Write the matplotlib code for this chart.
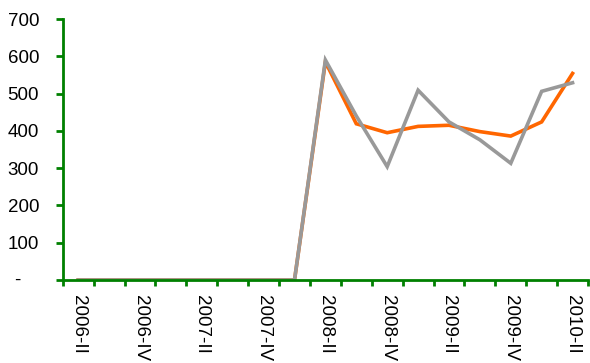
import numpy as np
import matplotlib
matplotlib.use("Agg")
import matplotlib.pyplot as plt
from matplotlib.transforms import blended_transform_factory

plt.rcParams['font.family'] = ['Liberation Sans', 'DejaVu Sans']

quarters = ['2006-II', '2006-III', '2006-IV', '2007-I', '2007-II', '2007-III', '2007-IV',
            '2008-I', '2008-II', '2008-III', '2008-IV', '2009-I', '2009-II', '2009-III',
            '2009-IV', '2010-I', '2010-II']
orange_vals = [0, 0, 0, 0, 0, 0, 0, 0, 585, 419, 395, 412, 415, 398, 386, 424, 554]
grey_vals = [0, 0, 0, 0, 0, 0, 0, 0, 590, 440, 304, 509, 424, 376, 313, 506, 529]
yticks = [0, 100, 200, 300, 400, 500, 600, 700]
ytick_labels = ['', '100', '200', '300', '400', '500', '600', '700']

green = '#008000'
fs = 13.5

fig = plt.figure(figsize=(5.9, 3.63), dpi=100)
ax = fig.add_axes([62.8 / 590, 1 - 280 / 363, (588 - 62.8) / 590, (280 - 19) / 363])

x = np.arange(len(quarters)) + 0.5
ax.plot(x, orange_vals, color='#FF6600', lw=2.6, solid_joinstyle='miter')
ax.plot(x, grey_vals, color='#999999', lw=2.6, solid_joinstyle='miter')

ax.set_xlim(0, len(quarters))
ax.set_ylim(0, 700)

# category axis: ticks between categories, labels on every other category
ax.set_xticks(np.arange(len(quarters) + 1))
ax.set_xticklabels([])
ax.set_xticks(x[::2], minor=True)
ax.set_xticklabels(quarters[::2], minor=True, rotation=270, fontsize=fs)
ax.tick_params(axis='x', which='minor', length=0, pad=11)
ax.tick_params(axis='x', which='major', length=4, width=2, color=green, direction='out')

ax.set_yticks(yticks)
ax.set_yticklabels(ytick_labels, fontsize=fs)
ax.tick_params(axis='y', length=5, width=2, color=green, direction='out', pad=12)

# zero shown as a dash, like the accounting number format
tr = blended_transform_factory(fig.transFigure, ax.transData)
ax.text(17 / 590, 0, '-', transform=tr, ha='center', va='center', fontsize=fs)

for side in ['top', 'right']:
    ax.spines[side].set_visible(False)
for side in ['left', 'bottom']:
    ax.spines[side].set_color(green)
    ax.spines[side].set_linewidth(2)

plt.savefig('out.png', dpi=100)
plt.close()
